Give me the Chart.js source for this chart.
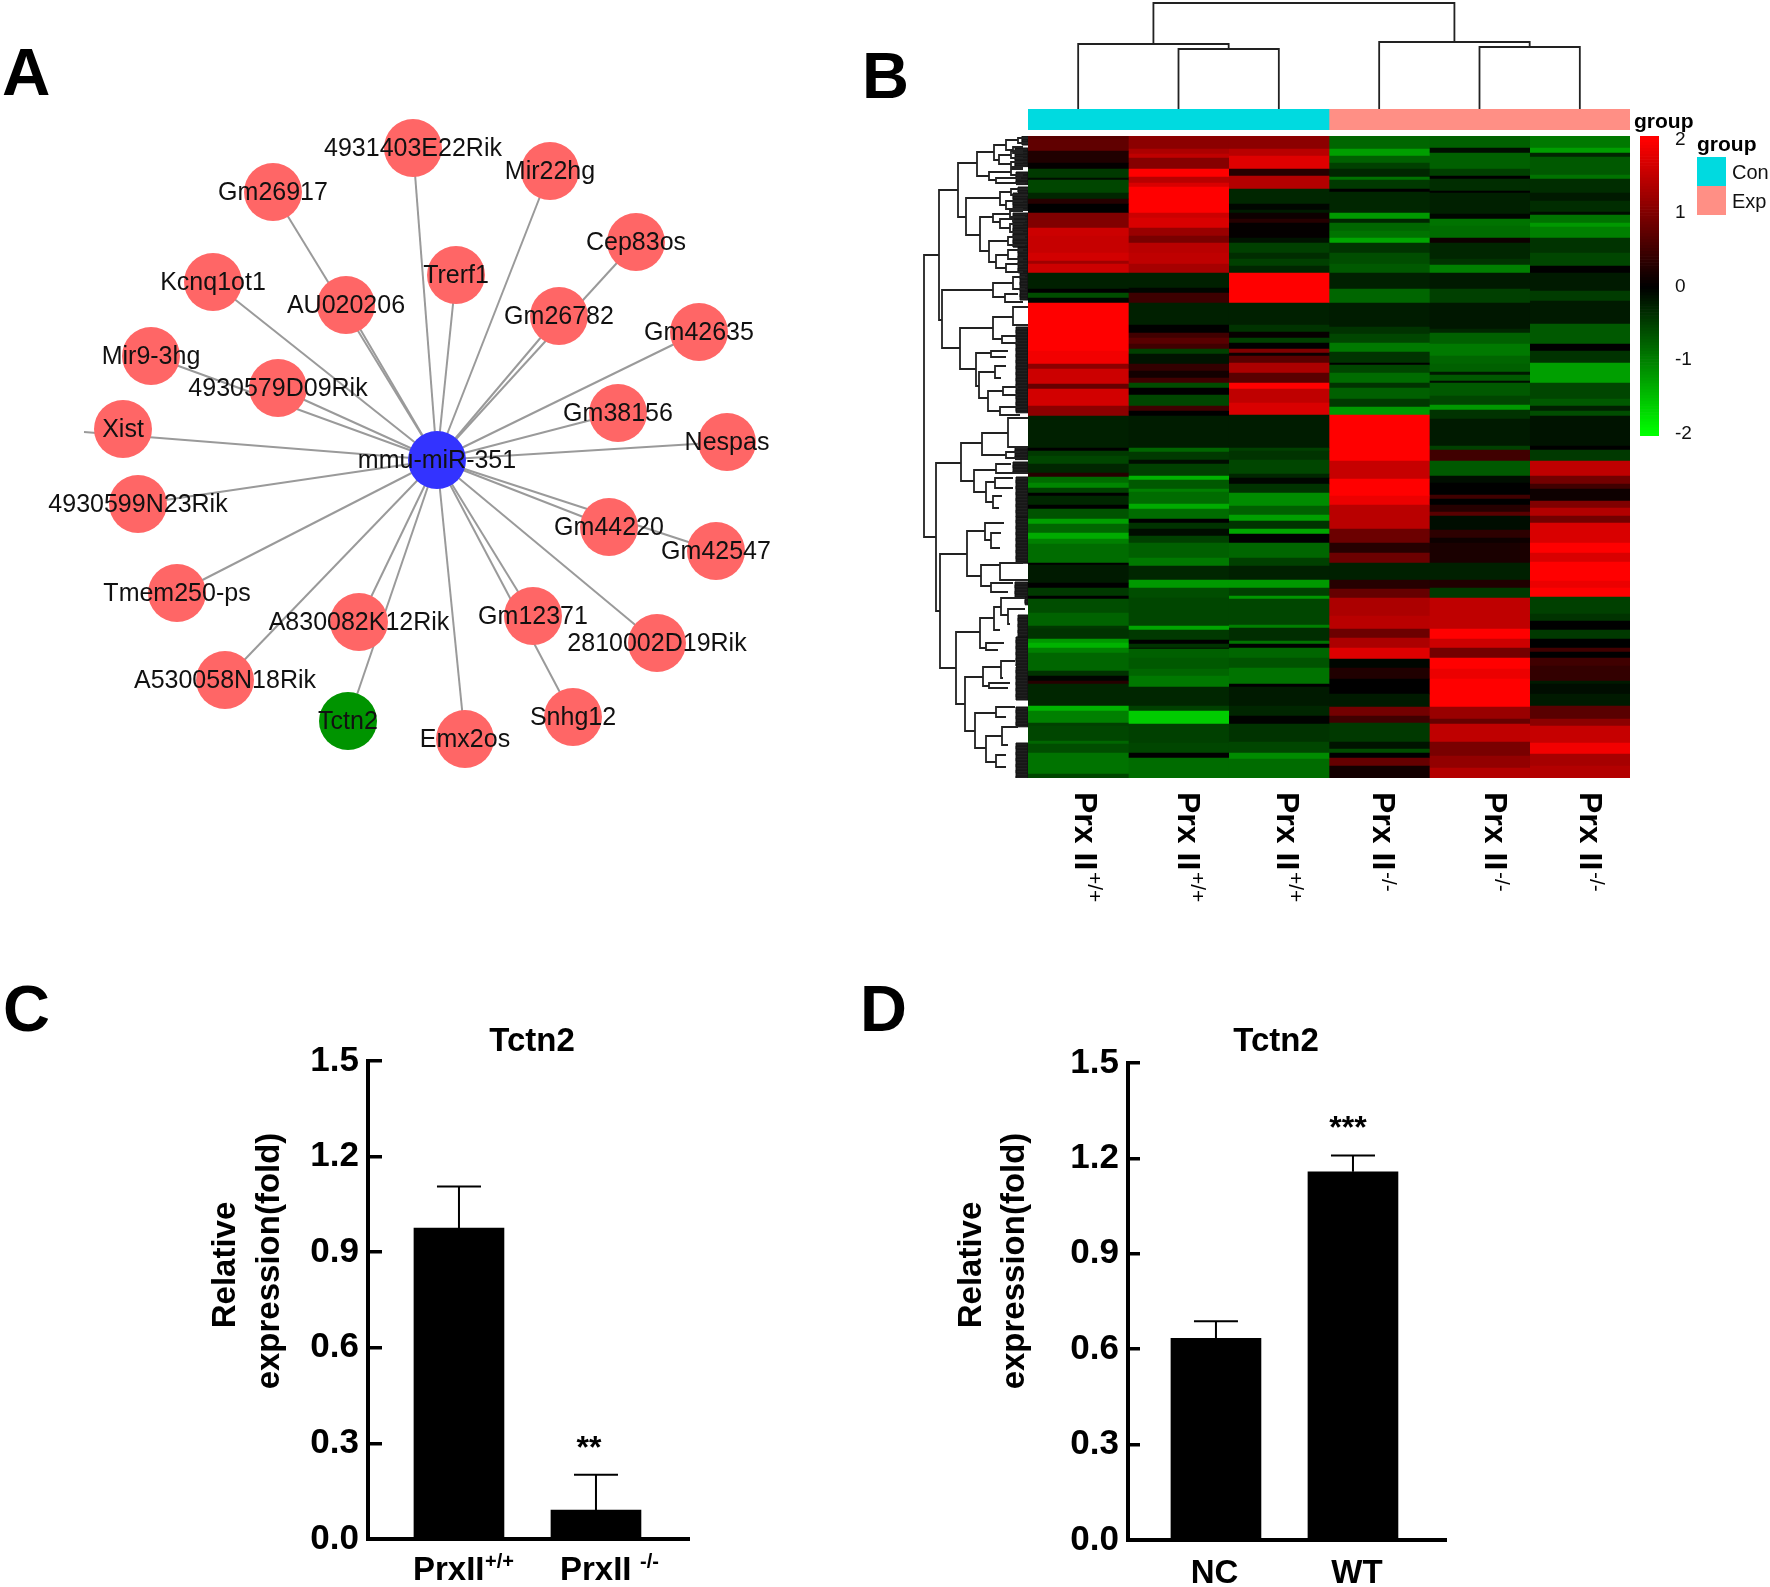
<!DOCTYPE html>
<html>
<head>
<meta charset="utf-8">
<title>Tctn2 network, heatmap and expression</title>
<script src="https://cdn.jsdelivr.net/npm/chart.js@4/dist/chart.umd.min.js"></script>
<style>
  html, body { margin: 0; padding: 0; background: #fff; width: 1770px; height: 1587px; overflow: hidden; }
  canvas { position: absolute; }
</style>
</head>
<body>
<canvas id="network" width="860" height="800" style="left:0px;top:0px"></canvas>
<canvas id="groupBar" width="910" height="230" style="left:860px;top:0px"></canvas>
<canvas id="topTree" width="602" height="109" style="left:1028px;top:0px"></canvas>
<canvas id="leftTree" width="106" height="642" style="left:922px;top:136px"></canvas>
<canvas id="heat" width="602" height="774" style="left:1028px;top:136px"></canvas>
<canvas id="colorBar" width="60" height="330" style="left:1640px;top:116px"></canvas>
<canvas id="panelC" width="520" height="567" style="left:180px;top:1020px"></canvas>
<canvas id="panelD" width="540" height="567" style="left:920px;top:1020px"></canvas>
<script>
// ---- panel A: network layout ----
const hubName = 'mmu-miR-351';
const hubPos = [437, 460];
const targetNames = ['4931403E22Rik', 'Mir22hg', 'Gm26917', 'Cep83os', 'Trerf1', 'Kcnq1ot1', 'AU020206', 'Gm26782', 'Gm42635', 'Mir9-3hg', '4930579D09Rik', 'Gm38156', 'Xist', 'Nespas', '4930599N23Rik', 'Gm44220', 'Gm42547', 'Tmem250-ps', 'A830082K12Rik', 'Gm12371', '2810002D19Rik', 'A530058N18Rik', 'Tctn2', 'Emx2os', 'Snhg12'];
const targetX = [413, 550, 273, 636, 456, 213, 346, 559, 699, 151, 278, 618, 123, 727, 138, 609, 716, 177, 359, 533, 657, 225, 348, 465, 573];
const targetY = [148, 171, 192, 242, 275, 282, 305, 316, 332, 356, 388, 413, 429, 442, 504, 527, 551, 593, 622, 616, 643, 680, 721, 739, 717];
const edgeStub = { Xist: [84, 432] };

// ---- panel B: heatmap columns, each run is [last row, z-score] ----
const sampleIds = ['S1', 'S2', 'S3', 'S4', 'S5', 'S6'];
const sampleName = 'Prx II';
const sampleSups = ['+/+', '+/+', '+/+', '-/-', '-/-', '-/-'];
const col1 = [[3,.7],[15,.75],[27,.25],[33,.03],[42,-.45],[44,-.1],[57,-.55],[63,-.3],[68,.3],[77,0],[92,1],[100,1.6],[117,1.55],[125,1.65],[128,1.25],[137,1.6],[153,-.25],[157,0],[162,-.6],[167,-.05],[215,2],[228,1.9],[233,1.1],[248,1.6],[253,.8],[270,1.65],[280,1.1],[312,-.25],[315,0],[320,-.45],[328,-.55],[337,-.3],[341,.3],[347,-.85],[352,-1.05],[357,-.5],[360,0],[369,-.3],[373,0],[383,-.65],[388,-1.25],[397,-.8],[403,-1.35],[408,-1],[427,-.85],[429,0],[447,-.2],[452,0],[460,-.45],[463,0],[477,-.6],[490,-.78],[493,-.45],[503,-.4],[507,-1.2],[512,-1.4],[517,-1],[535,-.8],[540,-.4],[545,-.05],[548,.3],[570,-.3],[575,-1.4],[587,-1],[590,-.5],[605,-.55],[608,-.8],[617,-.6],[638,-.9],[642,-.55]];
const col2 = [[13,1.1],[18,1.35],[22,1.5],[33,1.05],[41,2],[47,1.45],[51,1.7],[77,2],[82,1.6],[92,1.7],[100,1.2],[107,.95],[117,1.45],[128,1.5],[137,1.3],[152,-.25],[157,-.05],[167,.48],[189,-.25],[197,0],[202,.5],[208,.7],[213,.5],[218,-.5],[228,-.15],[235,.4],[242,.15],[247,.5],[252,-.6],[259,0],[270,-.55],[275,.5],[280,0],[312,-.22],[316,-.8],[324,-.45],[328,-.1],[340,-.5],[344,-1.4],[353,-.7],[356,-1],[368,-.85],[373,-1.35],[383,-.85],[387,0],[393,-.4],[400,-.1],[407,-.5],[422,-.75],[430,-.95],[444,-.3],[452,-1.2],[462,-.6],[490,-.55],[494,-1.3],[504,-.45],[508,0],[512,-.4],[513,-.1],[522,-.75],[533,-.7],[540,-.8],[551,-.95],[570,-.3],[575,-.5],[588,-1.6],[607,-.5],[617,-.55],[622,0],[642,-.85]];
const col3 = [[13,1.1],[20,1.45],[33,1.75],[40,.3],[53,1.4],[68,-.3],[74,-.05],[77,-.2],[83,.1],[87,.3],[102,.03],[107,-.15],[117,-.5],[123,-.35],[130,-.5],[137,-.3],[167,2],[189,-.25],[196,-.4],[202,.05],[207,-.5],[213,0],[217,1],[220,.1],[227,.7],[237,1.35],[247,.7],[253,2],[267,1.5],[279,1.7],[312,-.22],[315,-.5],[324,-.4],[338,-.55],[342,-.3],[348,-.05],[357,-.4],[370,-1.1],[379,-.75],[385,-1.25],[393,-.4],[398,-1.3],[407,0],[422,-.8],[430,-.5],[444,-.25],[452,-1.2],[460,-.5],[463,-1.2],[489,-.55],[492,-1],[505,-.35],[508,-.9],[512,0],[522,-.8],[532,-.65],[548,-.9],[551,0],[570,-.2],[580,-.3],[588,-.02],[606,-.4],[617,-.55],[623,-1.1],[642,-.85]];
const col4 = [[13,-.8],[20,-1.25],[27,-.75],[33,-.5],[41,-.3],[44,-.9],[53,-.45],[56,0],[77,-.3],[83,-1.2],[87,-.3],[95,-.8],[102,-.9],[107,-1.3],[117,-.4],[128,-.6],[137,-.7],[153,-.25],[167,-.8],[191,-.22],[198,-.4],[207,-.55],[216,-.95],[227,-.4],[229,0],[237,-.55],[247,-.85],[252,-.4],[263,-.75],[271,-.45],[279,-1.2],[325,2],[343,1.55],[360,2],[369,1.85],[393,1.45],[407,.85],[417,.3],[427,.85],[444,-.25],[453,.3],[462,.8],[480,1.35],[493,1.45],[502,.85],[512,1.35],[523,1.75],[532,-.05],[543,.25],[558,0],[571,-.2],[580,.9],[587,.5],[606,-.45],[613,-.15],[617,-.6],[622,0],[630,.8],[642,.15]];
const col5 = [[12,-.75],[17,-.1],[33,-.75],[40,-.5],[43,0],[55,-.35],[57,0],[78,-.25],[83,-.05],[90,-.9],[102,-.85],[107,.1],[123,-.3],[129,-.4],[137,-1],[153,-.2],[167,-.5],[193,-.18],[197,-.3],[208,-.75],[220,-.95],[228,-.8],[236,-.75],[239,-.2],[245,-.7],[247,-.1],[260,-.7],[269,-.55],[274,-1.2],[283,-.4],[310,-.2],[314,-.5],[325,.5],[340,-.7],[347,-.1],[359,0],[363,.5],[369,0],[376,.3],[380,.7],[394,-.1],[402,.35],[407,.1],[427,.2],[444,-.25],[452,.25],[462,-.45],[493,1.5],[503,2],[512,1.6],[522,.9],[533,2],[543,1.85],[571,2],[583,1.2],[588,.8],[606,1.5],[620,.95],[632,1.15],[642,1.4]];
const col6 = [[12,-.95],[17,-1.25],[21,-.3],[39,-.7],[43,-.9],[57,-.35],[65,-.2],[76,-.35],[79,-.1],[87,-.9],[91,-1.2],[102,-1],[117,-.4],[130,-.55],[137,0],[155,-.2],[165,-.47],[188,-.2],[208,-.7],[215,0],[227,-.4],[247,-1.25],[263,-.55],[270,-.7],[275,-.25],[280,-.6],[310,-.15],[314,0],[325,-.45],[340,1.5],[348,.9],[353,.5],[365,.1],[372,1],[380,1.4],[387,.9],[407,1.7],[417,2],[426,1.7],[445,2],[452,1.85],[461,2],[478,-.5],[485,-.4],[494,0],[503,-.45],[512,0],[516,.5],[522,0],[530,.5],[545,.4],[548,-.2],[558,-.1],[570,-.2],[583,.7],[590,1.1],[607,1.55],[618,1.9],[630,1.3],[642,1.4]];
const heatColumns = [col1, col2, col3, col4, col5, col6];

// groups on the annotation bar
const groupNames = ['Con', 'Exp'];
const groupCounts = [3, 3];
const colorTicks = [2, 1, 0, -1, -2];

// dendrograms: [merge height, pos a, height a, pos b, height b]
const topMerges = [[106,1.25,65,4.25,67],[65,.5,0,2,60],[60,1.5,0,2.5,0],[67,3.5,0,5,62],[62,4.5,0,5.5,0]];
const leftMerges = [
  [104,119,89,401,92],[89,54,70,184,86],[70,27,51,81,62],[51,16,34,40,39],[34,9,22,24,29],[22,4,10,14,15],[10,2,0,7,0],[15,11,5,17,5],
  [29,19,17,28,17],[17,15,5,22,5],[17,26,5,31,5],[39,36,17,44,32],[17,33,5,39,5],[32,42,7,47,3],[62,62,28,99,48],[28,56,17,69,22],[17,53,0,59,0],[22,65,5,73,5],
  [48,81,35,115,39],[35,78,18,86,28],[18,75,5,81,5],[28,83,15,92,18],[15,81,3,85,3],[18,88,5,96,5],[39,105,20,126,32],[20,101,3,109,3],[32,119,20,132,22],[20,114,5,123,5],[22,128,5,136,5],
  [86,154,35,212,68],[35,147,15,161,23],[15,141,3,153,3],[23,158,10,166,5],[68,192,35,233,52],[35,181,15,203,26],[15,171,0,189,0],[26,200,12,207,10],
  [52,217,37,250,49],[37,215,20,221,22],[49,236,33,262,40],[33,230,22,242,27],[40,255,25,275,28],[25,251,10,259,10],[28,271,8,279,8],
  [92,327,67,475,88],[67,307,46,345,54],[46,297,20,319,22],[20,282,0,311,0],[22,316,8,322,8],[54,334,32,356,42],[32,328,17,337,0],[42,346,33,366,35],[33,342,15,352,15],[35,360,26,372,29],
  [88,418,61,532,72],[61,395,43,440,47],[43,387,24,404,37],[37,397,27,412,28],[47,429,28,450,37],[28,427,5,444,0],[37,447,15,456,20],
  [72,496,48,568,63],[48,482,34,512,42],[34,471,27,494,28],[27,462,3,479,20],[20,473,3,488,18],[42,507,24,514,30],
  [63,541,45,595,53],[45,531,27,550,39],[27,525,13,542,25],[39,547,18,552,20],[53,577,32,612,42],[32,571,13,581,22],[42,600,26,626,32],[26,591,10,609,20],[32,619,22,631,22]
];
// rows where the leaves are packed so tight they read as solid: [first row, last row, leaf height]
const leafBands = [[0,9,6],[12,31,13],[36,49,12],[51,56,10],[57,74,15],[77,111,15],[111,137,10],[137,164,8],[191,277,12],[311,324,13],[326,337,15],[341,381,12],[381,427,12],[446,461,13],[461,469,3],[479,501,10],[501,531,12],[531,564,12],[571,591,12],[607,642,12]];

// ---- panels C and D ----
const cPositions = [1, 2];
const cLabels = ['PrxII', 'PrxII'];
const cSups = ['+/+', '-/-'];
const cValues = [0.976, 0.091];
const cErrorTops = [1.106, 0.202];
const cStars = [null, '**'];
const dPositions = [1, 2];
const dLabels = ['NC', 'WT'];
const dValues = [0.634, 1.158];
const dErrorTops = [0.688, 1.209];
const dStars = [null, '***'];
const yTicks = [0, 0.3, 0.6, 0.9, 1.2, 1.5];

const FONT = "'Liberation Sans', Arial, sans-serif";
Chart.defaults.font.family = FONT;
Chart.defaults.color = '#000';
Chart.defaults.animation = false;
Chart.defaults.responsive = false;
Chart.defaults.devicePixelRatio = 1;
Chart.defaults.layout.autoPadding = false;
Chart.defaults.plugins.legend.display = false;
Chart.defaults.plugins.tooltip.enabled = false;

function heatColor(v) {
  const level = Math.round(Math.min(Math.abs(v), 2) / 2 * 255);
  return v >= 0 ? `rgb(${level},0,0)` : `rgb(0,${level},0)`;
}

function text(ctx, str, x, y, font, opts = {}) {
  ctx.save();
  ctx.translate(x, y);
  if (opts.rotate) ctx.rotate(opts.rotate);
  ctx.font = `${font} ${FONT}`;
  ctx.fillStyle = opts.color || '#000';
  ctx.textAlign = opts.align || 'center';
  ctx.textBaseline = opts.baseline || 'middle';
  ctx.fillText(str, 0, 0);
  ctx.restore();
}

const hiddenAxis = (min, max, reverse) => ({ type: 'linear', display: false, min, max, reverse: !!reverse });

// ---- panel A ----
const edgeSets = targetNames.map((name, i) => ({
  data: [{ x: hubPos[0], y: hubPos[1] }, edgeStub[name] ? { x: edgeStub[name][0], y: edgeStub[name][1] } : { x: targetX[i], y: targetY[i] }],
  showLine: true, borderColor: '#9a9a9a', borderWidth: 2, pointRadius: 0, order: 2
}));
const nodeData = targetNames.map((name, i) => ({ x: targetX[i], y: targetY[i] }));
nodeData.push({ x: hubPos[0], y: hubPos[1] });
const nodeColors = targetNames.map(name => name === 'Tctn2' ? '#009400' : '#ff6666');
nodeColors.push('#3333ff');
new Chart(document.getElementById('network'), {
  type: 'scatter',
  data: { datasets: [...edgeSets, { data: nodeData, pointRadius: 29, pointBorderWidth: 0, pointBackgroundColor: nodeColors, order: 1 }] },
  options: { scales: { x: hiddenAxis(0, 860), y: hiddenAxis(0, 800, true) } },
  plugins: [{
    id: 'networkText',
    afterDraw(chart) {
      const { ctx, scales: { x, y } } = chart;
      targetNames.forEach((name, i) => text(ctx, name, x.getPixelForValue(targetX[i]), y.getPixelForValue(targetY[i]) + 1, '25px', { color: '#111' }));
      text(ctx, hubName, x.getPixelForValue(hubPos[0]), y.getPixelForValue(hubPos[1]) + 1, '25px', { color: '#111' });
      text(ctx, 'A', 2, 95, 'bold 67px', { align: 'left', baseline: 'alphabetic' });
    }
  }]
});

// ---- panel B: annotation bar, legend and panel letter ----
const groupColors = ['#00dae0', '#ff8f85'];
new Chart(document.getElementById('groupBar'), {
  type: 'bar',
  data: {
    labels: ['group'],
    datasets: groupNames.map((name, i) => ({ label: name, data: [groupCounts[i]], backgroundColor: groupColors[i], barPercentage: 1, categoryPercentage: 1 }))
  },
  options: {
    indexAxis: 'y',
    layout: { padding: { left: 168, right: 140, top: 109, bottom: 100 } },
    scales: {
      x: { stacked: true, display: false, min: 0, max: 6 },
      y: { stacked: true, display: false }
    }
  },
  plugins: [{
    id: 'groupText',
    afterDraw(chart) {
      const { ctx } = chart;
      text(ctx, 'B', 2, 98, 'bold 65px', { align: 'left', baseline: 'alphabetic' });
      text(ctx, 'group', 774, 122, 'bold 21px', { align: 'left' });
      text(ctx, 'group', 837, 145, 'bold 21px', { align: 'left' });
      groupNames.forEach((name, i) => {
        ctx.fillStyle = groupColors[i];
        ctx.fillRect(837, 157 + i * 29, 29, 29);
        text(ctx, name, 872, 173 + i * 29, '20px', { align: 'left', color: '#111' });
      });
    }
  }]
});

// ---- panel B: dendrograms ----
function mergeLine(m, horizontal) {
  const [h, a, ha, b, hb] = m;
  const pts = [[ha, a], [h, a], [h, b], [hb, b]];
  return {
    data: pts.map(p => horizontal ? { x: p[1], y: p[0] } : { x: p[0], y: p[1] }),
    showLine: true, borderColor: '#222', borderWidth: 1.8, pointRadius: 0, clip: false
  };
}
function leafZigzag(band) {
  const [from, to, h] = band;
  const data = [];
  for (let row = from; row < to; row += 1.2) {
    data.push({ x: h, y: row }, { x: 0, y: row }, { x: 0, y: row + 0.6 }, { x: h, y: row + 0.6 });
  }
  return { data, showLine: true, borderColor: '#111', borderWidth: 1, pointRadius: 0, clip: false };
}
new Chart(document.getElementById('topTree'), {
  type: 'scatter',
  data: { datasets: topMerges.map(m => mergeLine(m, true)) },
  options: { scales: { x: hiddenAxis(0, 6), y: hiddenAxis(0, 109) } }
});
new Chart(document.getElementById('leftTree'), {
  type: 'scatter',
  data: { datasets: [...leftMerges.map(m => mergeLine(m, false)), ...leafBands.map(leafZigzag)] },
  options: { scales: { x: hiddenAxis(0, 106, true), y: hiddenAxis(0, 642, true) } }
});

// ---- panel B: heatmap ----
function heatDataset(sample, runs) {
  const data = [];
  const colors = [];
  let start = 0;
  runs.forEach(([end, value]) => {
    data.push({ x: sample, y: [start, end] });
    colors.push(heatColor(value));
    start = end;
  });
  return { data, backgroundColor: colors, grouped: false, barPercentage: 1, categoryPercentage: 1, borderWidth: 0 };
}
const labelShift = [6, 8, 7, 3, 14, 9];
const supShift = [16, 18, 16, 9, 21, 16];
new Chart(document.getElementById('heat'), {
  type: 'bar',
  data: { labels: sampleIds, datasets: heatColumns.map((runs, i) => heatDataset(sampleIds[i], runs)) },
  options: {
    layout: { padding: { bottom: 132 } },
    scales: {
      x: { type: 'category', display: false },
      y: hiddenAxis(0, 642, true)
    }
  },
  plugins: [{
    id: 'sampleLabels',
    afterDraw(chart) {
      const { ctx, scales: { x } } = chart;
      sampleIds.forEach((id, i) => {
        const px = x.getPixelForValue(i);
        text(ctx, sampleName, px + labelShift[i], 656, 'bold 32px', { rotate: Math.PI / 2, align: 'left' });
        text(ctx, sampleSups[i], px + supShift[i], 736, '21px', { rotate: Math.PI / 2, align: 'left' });
      });
    }
  }]
});

// ---- panel B: colour key ----
const keyBars = [];
const keyColors = [];
for (let v = -2.03; v < 2.05; v += 0.04) {
  keyBars.push({ x: 'key', y: [v, v + 0.04] });
  keyColors.push(heatColor(v + 0.02));
}
// the scale pads itself for its tick labels, which would shrink the key
function noLabelPadding(scale) {
  scale.paddingTop = 0;
  scale.paddingBottom = 0;
}
new Chart(document.getElementById('colorBar'), {
  type: 'bar',
  data: { labels: ['key'], datasets: [{ data: keyBars, backgroundColor: keyColors, grouped: false, barPercentage: 1, categoryPercentage: 1 }] },
  options: {
    layout: { padding: { top: 20, bottom: 10 } },
    scales: {
      x: { display: false },
      y: {
        position: 'right', min: -2.03, max: 2.05,
        afterFit(scale) { scale.width = 41; noLabelPadding(scale); },
        afterBuildTicks(scale) { scale.ticks = colorTicks.map(value => ({ value })); },
        border: { display: false },
        grid: { display: false },
        ticks: { padding: 8, font: { size: 19 }, color: '#111', callback: v => String(v) }
      }
    }
  }
});

// ---- panels C and D ----
function barPanel(id, cfg) {
  new Chart(document.getElementById(id), {
    type: 'bar',
    data: {
      datasets: [{
        data: cfg.positions.map((p, i) => ({ x: p, y: cfg.values[i] })),
        backgroundColor: '#000', barThickness: 90
      }]
    },
    options: {
      layout: { padding: cfg.padding },
      scales: {
        x: {
          type: 'linear', offset: false, min: cfg.xRange[0], max: cfg.xRange[1],
          afterFit(scale) { scale.height = 0; },
          ticks: { display: false },
          grid: { display: false, drawTicks: false },
          border: { display: true, color: '#000', width: 4 }
        },
        y: {
          min: 0, max: 1.5,
          afterFit(scale) { scale.width = cfg.axisWidth; noLabelPadding(scale); },
          afterBuildTicks(scale) { scale.ticks = yTicks.map(value => ({ value })); },
          grid: { drawOnChartArea: false, lineWidth: 3.5, color: '#000', tickLength: -cfg.tickLen },
          border: { color: '#000', width: 4 },
          ticks: { padding: cfg.tickLen + 9, font: { size: 35, weight: 'bold' }, callback: v => v.toFixed(1) }
        }
      }
    },
    plugins: [{
      id: 'barExtras',
      afterDraw(chart) {
        const { ctx, scales: { x, y } } = chart;
        // error bars
        ctx.strokeStyle = '#000';
        ctx.lineWidth = 2;
        cfg.positions.forEach((p, i) => {
          const px = x.getPixelForValue(p);
          const top = y.getPixelForValue(cfg.errorTops[i]);
          ctx.beginPath();
          ctx.moveTo(px, y.getPixelForValue(cfg.values[i]));
          ctx.lineTo(px, top);
          ctx.moveTo(px - 22, top);
          ctx.lineTo(px + 22, top);
          ctx.stroke();
          if (cfg.stars[i]) {
            text(ctx, cfg.stars[i], px + cfg.starShift, top - cfg.starGap, 'bold 32px');
          }
          if (cfg.sups) {
            text(ctx, cfg.labels[i], px + cfg.labelShift[i], cfg.labelY, 'bold 33px', { align: 'left' });
            text(ctx, cfg.sups[i], px + cfg.supShift[i], cfg.labelY - 9, 'bold 20px', { align: 'left' });
          } else {
            text(ctx, cfg.labels[i], px + cfg.labelShift[i], cfg.labelY, 'bold 33px');
          }
        });
        text(ctx, 'Tctn2', cfg.titleX, 22, 'bold 33px');
        text(ctx, 'Relative', cfg.yTitleX[0], 245, 'bold 33px', { rotate: -Math.PI / 2 });
        text(ctx, 'expression(fold)', cfg.yTitleX[1], 241, 'bold 33px', { rotate: -Math.PI / 2 });
      }
    }]
  });
}

barPanel('panelC', {
  positions: cPositions, values: cValues, errorTops: cErrorTops, labels: cLabels, sups: cSups, stars: cStars,
  padding: { top: 41, bottom: 48, right: 11 }, axisWidth: 188, xRange: [0.336, 2.679], tickLen: 14,
  labelShift: [-46, -36], supShift: [26, 44], labelY: 551, starShift: -7, starGap: 25,
  titleX: 352, yTitleX: [46, 90]
});
barPanel('panelD', {
  positions: dPositions, values: dValues, errorTops: dErrorTops, labels: dLabels, stars: dStars,
  padding: { top: 43, bottom: 47, right: 14 }, axisWidth: 208, xRange: [0.358, 2.679], tickLen: 12,
  labelShift: [-1.5, 4], labelY: 554, starShift: -5, starGap: 26,
  titleX: 356, yTitleX: [52, 95]
});

// panel letters for the lower row sit outside those charts' canvases
const letters = document.createElement('canvas');
letters.width = 910; letters.height = 90;
letters.style.cssText = 'left:0;top:970px';
document.body.appendChild(letters);
const lctx = letters.getContext('2d');
text(lctx, 'C', 3, 61, 'bold 65px', { align: 'left', baseline: 'alphabetic' });
text(lctx, 'D', 860, 61, 'bold 65px', { align: 'left', baseline: 'alphabetic' });
</script>
</body>
</html>
